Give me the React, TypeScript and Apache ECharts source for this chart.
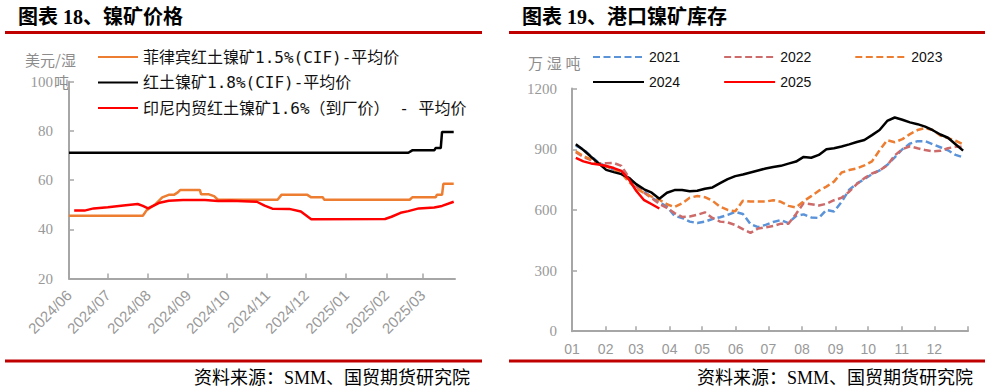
import React, { useEffect, useRef } from 'react';
import * as echarts from 'echarts';

// ---------- Left chart: nickel ore prices (USD / wet ton) ----------
const LEFT_MONTH_LABELS = ['2024/06', '2024/07', '2024/08', '2024/09', '2024/10', '2024/11', '2024/12', '2025/01', '2025/02', '2025/03'];

const PH15_NAME = '菲律宾红土镍矿1.5%(CIF)-平均价';
const PH15_DATES = ['2024-06-01', '2024-07-28', '2024-07-31', '2024-08-03', '2024-08-07', '2024-08-12', '2024-08-17', '2024-08-21', '2024-08-24', '2024-08-26', '2024-09-10', '2024-09-11', '2024-09-17', '2024-09-21', '2024-09-24', '2024-11-09', '2024-11-12', '2024-12-02', '2024-12-05', '2024-12-14', '2024-12-15', '2025-02-19', '2025-02-21', '2025-03-11', '2025-03-12', '2025-03-16', '2025-03-17', '2025-03-25'];
const PH15_VALUES = [45.5, 45.5, 47.8, 48.9, 50.3, 53, 54, 54, 55, 56, 56, 54.2, 54.2, 53.5, 52, 52, 54, 54, 53, 53, 52, 52, 53, 53, 54, 54, 58.5, 58.5];

const LAT18_NAME = '红土镍矿1.8%(CIF)-平均价';
const LAT18_DATES = ['2024-06-01', '2025-02-18', '2025-02-21', '2025-03-10', '2025-03-11', '2025-03-15', '2025-03-16', '2025-03-25'];
const LAT18_VALUES = [71.1, 71.1, 72.1, 72.1, 73, 73, 79.6, 79.6];

const ID16_NAME = '印尼内贸红土镍矿1.6%（到厂价） - 平均价';
const ID16_DATES = ['2024-06-05', '2024-06-13', '2024-06-20', '2024-07-01', '2024-07-13', '2024-07-24', '2024-07-28', '2024-08-01', '2024-08-05', '2024-08-10', '2024-08-17', '2024-08-28', '2024-09-14', '2024-09-24', '2024-10-04', '2024-10-24', '2024-10-30', '2024-11-05', '2024-11-18', '2024-11-27', '2024-12-05', '2025-01-31', '2025-02-05', '2025-02-12', '2025-02-18', '2025-02-26', '2025-03-10', '2025-03-16', '2025-03-25'];
const ID16_VALUES = [47.6, 47.6, 48.5, 49.0, 49.7, 50.3, 49.5, 48.5, 49.5, 50.8, 51.6, 51.9, 51.9, 51.5, 51.6, 51.2, 49.6, 48.4, 48.3, 47.2, 44.1, 44.2, 45.1, 46.7, 47.4, 48.5, 48.9, 49.5, 51.2];

const LEFT_Y_TICKS = { min: 20, max: 100, interval: 20 };

// ---------- Right chart: port nickel ore inventory (10k wet tons), weekly ----------
const MONTH_LABELS = ['01', '02', '03', '04', '05', '06', '07', '08', '09', '10', '11', '12'];
const MONTH_START_DAYS = [0, 31, 59, 90, 120, 151, 181, 212, 243, 273, 304, 334];
const YEAR_DAYS = 365;

const INV_2021 = [918, 900, 866, 833, 815, 800, 790, 760, 718, 692, 660, 638, 616, 571, 560, 542, 535, 542, 555, 564, 575, 590, 580, 530, 515, 526, 540, 550, 535, 570, 578, 563, 560, 600, 592, 640, 700, 730, 752, 777, 795, 822, 860, 900, 928, 940, 940, 925, 910, 895, 872, 860];
const INV_2022 = [885, 862, 846, 831, 831, 832, 818, 760, 715, 685, 658, 630, 610, 584, 565, 567, 576, 588, 560, 542, 538, 525, 505, 486, 508, 514, 520, 532, 532, 580, 634, 628, 622, 630, 648, 660, 690, 728, 757, 780, 795, 820, 870, 900, 915, 905, 896, 890, 892, 905, 912, 913];
const INV_2023 = [890, 866, 850, 830, 816, 800, 782, 738, 705, 684, 665, 650, 628, 614, 632, 660, 669, 663, 645, 616, 600, 593, 645, 641, 641, 641, 648, 640, 620, 612, 643, 668, 695, 715, 740, 785, 797, 805, 820, 840, 895, 945, 935, 950, 975, 995, 1005, 995, 968, 955, 942, 925];
const INV_2024 = [925, 896, 863, 830, 798, 787, 777, 758, 726, 702, 685, 655, 685, 698, 698, 692, 695, 705, 711, 732, 752, 767, 775, 785, 795, 805, 812, 818, 829, 839, 862, 858, 872, 900, 905, 914, 924, 936, 946, 970, 995, 1040, 1057, 1046, 1033, 1024, 1012, 994, 973, 957, 925, 893];
const INV_2025 = [857, 840, 830, 825, 817, 807, 793, 750, 692, 648, 628, 607];

const RIGHT_Y_TICKS = { min: 0, max: 1200, interval: 300 };

const toTs = (s: string) => {
  const [y, m, d] = s.split('-').map(Number);
  return Date.UTC(y, m - 1, d);
};
const pairs = (dates: string[], vals: number[]) => dates.map((d, i) => [toTs(d), vals[i]]);
// weekly points placed at the middle day of each week of the year
const weekly = (vals: number[]) => vals.map((v, i) => [i * 7 + 3.5, v]);

const LEFT_TICK_TS = LEFT_MONTH_LABELS.map((l) => toTs(l.replace('/', '-') + '-01'));

const GRAY = '#a6a6a6';
const LABEL_GRAY = '#999999';
const SERIF = "'Liberation Serif', 'Noto Sans CJK SC', serif";
const SANS = "'Liberation Sans', 'Noto Sans CJK SC', sans-serif";
const CJK = "'Noto Sans CJK SC', sans-serif";
const MONO_CJK = "'DejaVu Sans Mono', 'Noto Sans CJK SC', monospace";
const DARK_RED = '#C00000';

export default function App() {
  const ref = useRef<HTMLDivElement>(null);

  useEffect(() => {
    document.body.style.margin = '0';
    if (!ref.current) return;
    const chart = echarts.init(ref.current, null, { renderer: 'svg' });

    const lineSeries = (name: string, color: string, data: any[], xi: number, dashed = false) => ({
      type: 'line',
      name,
      xAxisIndex: xi,
      yAxisIndex: xi,
      data,
      symbol: 'none',
      showSymbol: false,
      smooth: false,
      lineStyle: { color, width: 2.5, type: dashed ? [7, 3.5] : 'solid' },
      itemStyle: { color },
    });

    const axisLine = { show: true, onZero: false, lineStyle: { color: GRAY, width: 2 } };
    const plain = (v: number) => String(v);

    const option: any = {
      animation: false,
      backgroundColor: '#ffffff',
      grid: [
        { left: 69, top: 81.7, width: 386, height: 196.8, outerBoundsMode: 'none', containLabel: false },
        { left: 572, top: 88.6, width: 396, height: 242.6, outerBoundsMode: 'none', containLabel: false },
      ],
      xAxis: [
        {
          type: 'value',
          gridIndex: 0,
          min: toTs('2024-06-01'),
          max: toTs('2025-03-26'),
          splitLine: { show: false },
          axisLine,
          axisTick: { show: true, inside: true, length: 5, customValues: LEFT_TICK_TS, lineStyle: { color: GRAY, width: 1.5 } },
          axisLabel: {
            customValues: LEFT_TICK_TS,
            formatter: (v: number) => {
              const i = LEFT_TICK_TS.indexOf(v);
              return i >= 0 ? LEFT_MONTH_LABELS[i] : '';
            },
            rotate: 45,
            margin: 14,
            color: LABEL_GRAY,
            fontSize: 15,
            fontFamily: SANS,
          },
        },
        {
          type: 'value',
          gridIndex: 1,
          min: 0,
          max: YEAR_DAYS,
          splitLine: { show: false },
          axisLine,
          axisTick: { show: true, inside: true, length: 5, customValues: [...MONTH_START_DAYS, YEAR_DAYS], lineStyle: { color: GRAY, width: 1.5 } },
          axisLabel: {
            customValues: MONTH_START_DAYS,
            formatter: (v: number) => {
              const i = MONTH_START_DAYS.indexOf(v);
              return i >= 0 ? MONTH_LABELS[i] : '';
            },
            margin: 11,
            color: LABEL_GRAY,
            fontSize: 14,
            fontFamily: SANS,
          },
        },
      ],
      yAxis: [
        {
          type: 'value',
          gridIndex: 0,
          ...LEFT_Y_TICKS,
          splitLine: { show: false },
          axisLine,
          axisTick: { show: true, inside: true, length: 5, lineStyle: { color: GRAY, width: 1.5 } },
          axisLabel: { margin: 16, color: LABEL_GRAY, fontSize: 15, fontFamily: SERIF, formatter: plain },
        },
        {
          type: 'value',
          gridIndex: 1,
          ...RIGHT_Y_TICKS,
          splitLine: { show: false },
          axisLine,
          axisTick: { show: true, inside: true, length: 5, lineStyle: { color: GRAY, width: 1.5 } },
          axisLabel: { margin: 15, color: LABEL_GRAY, fontSize: 15, fontFamily: SERIF, formatter: plain },
        },
      ],
      legend: [
        {
          orient: 'vertical',
          left: 92,
          top: 44,
          itemWidth: 40,
          itemHeight: 14,
          itemGap: 9.5,
          itemStyle: { opacity: 0 },
          data: [PH15_NAME, LAT18_NAME, ID16_NAME],
          textStyle: { color: '#111', fontSize: 16, fontFamily: MONO_CJK },
        },
        {
          orient: 'horizontal',
          left: 587,
          top: 45,
          itemWidth: 51,
          itemHeight: 14,
          itemGap: 43,
          itemStyle: { opacity: 0 },
          data: ['2021', '2022', '2023'],
          textStyle: { color: '#111', fontSize: 14, fontFamily: SANS },
        },
        {
          orient: 'horizontal',
          left: 587,
          top: 70,
          itemWidth: 51,
          itemHeight: 14,
          itemGap: 43,
          itemStyle: { opacity: 0 },
          data: ['2024', '2025'],
          textStyle: { color: '#111', fontSize: 14, fontFamily: SANS },
        },
      ],
      series: [
        lineSeries(PH15_NAME, '#ED7D31', pairs(PH15_DATES, PH15_VALUES), 0),
        lineSeries(LAT18_NAME, '#000000', pairs(LAT18_DATES, LAT18_VALUES), 0),
        lineSeries(ID16_NAME, '#FF0000', pairs(ID16_DATES, ID16_VALUES), 0),
        lineSeries('2021', '#5B93D9', weekly(INV_2021), 1, true),
        lineSeries('2022', '#CD6B6B', weekly(INV_2022), 1, true),
        lineSeries('2023', '#ED7D31', weekly(INV_2023), 1, true),
        lineSeries('2024', '#000000', weekly(INV_2024), 1),
        lineSeries('2025', '#FF0000', weekly(INV_2025), 1),
      ],
      graphic: [
        { type: 'text', x: 18, y: 17, style: { text: '图表 18、镍矿价格', fill: '#000', fontSize: 20, fontWeight: 'bold', fontFamily: SERIF, verticalAlign: 'middle' } },
        { type: 'text', x: 522, y: 17, style: { text: '图表 19、港口镍矿库存', fill: '#000', fontSize: 20, fontWeight: 'bold', fontFamily: SERIF, verticalAlign: 'middle' } },
        { type: 'line', shape: { x1: 5, y1: 32.5, x2: 482, y2: 32.5 }, style: { stroke: DARK_RED, lineWidth: 3 } },
        { type: 'line', shape: { x1: 509, y1: 32.5, x2: 985, y2: 32.5 }, style: { stroke: DARK_RED, lineWidth: 3 } },
        { type: 'line', shape: { x1: 5, y1: 361, x2: 482, y2: 361 }, style: { stroke: DARK_RED, lineWidth: 3 } },
        { type: 'line', shape: { x1: 509, y1: 361, x2: 985, y2: 361 }, style: { stroke: DARK_RED, lineWidth: 3 } },
        { type: 'text', x: 470, y: 378, style: { text: '资料来源：SMM、国贸期货研究院', fill: '#000', fontSize: 18, fontFamily: SERIF, align: 'right', verticalAlign: 'middle' } },
        { type: 'text', x: 973, y: 378, style: { text: '资料来源：SMM、国贸期货研究院', fill: '#000', fontSize: 18, fontFamily: SERIF, align: 'right', verticalAlign: 'middle' } },
        { type: 'text', x: 25, y: 59, style: { text: '美元/湿', fill: '#8c8c8c', fontSize: 15, fontFamily: CJK, verticalAlign: 'middle' } },
        { type: 'text', x: 54, y: 81, style: { text: '吨', fill: '#8c8c8c', fontSize: 15, fontFamily: CJK, verticalAlign: 'middle' } },
        { type: 'text', x: 528, y: 62, style: { text: '万\u2005湿\u2005吨', fill: '#8c8c8c', fontSize: 15, fontFamily: CJK, verticalAlign: 'middle' } },
      ],
    };

    chart.setOption(option);
    return () => chart.dispose();
  }, []);

  return <div ref={ref} style={{ width: 991, height: 392 }} />;
}
